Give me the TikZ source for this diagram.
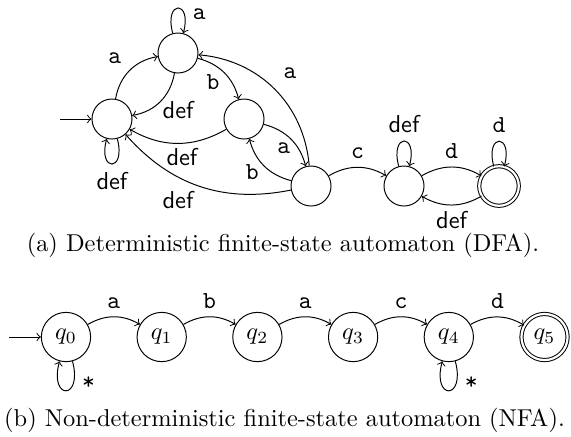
\documentclass[tikz,border=0pt]{standalone}
\begin{document}
\begin{tikzpicture}[x=0.4098pt,y=-0.4098pt,
  st/.style={circle,draw,minimum size=16.4pt,inner sep=0pt},
  acc/.style={circle,draw,double,double distance=0.9pt,minimum size=16.2pt,inner sep=0pt},
  nst/.style={circle,draw,minimum size=20.2pt,inner sep=0pt},
  nacc/.style={circle,draw,double,double distance=0.9pt,minimum size=18.9pt,inner sep=0pt},
  lab/.style={font=\ttfamily},
  slab/.style={font=\sffamily},
  tr/.style={->},
]
\useasboundingbox (0,0) rectangle (571,436);
% DFA
\node[st] (s0) at (112,119) {};
\node[st] (s1) at (178,53) {};
\node[st] (s2) at (244,119) {};
\node[st] (s3) at (311,186) {};
\node[st] (s4) at (404,186) {};
\node[acc] (s5) at (499,186) {};
\coordinate (i0) at (60,119);
\draw[tr] (i0) -- (s0);
\draw[tr] (s0) to[bend left=35] node[lab,shift={(-14.7,-12.7)}] {a} (s1);
\draw[tr] (s1) to[bend left=35] node[slab,shift={(17.7,8.7)}] {def} (s0);
\draw[tr] (s1) to[bend left=30] node[lab,shift={(-11.2,9.2)}] {b} (s2);
\draw[tr] (s2) to[bend left=30] node[slab,shift={(4,13.7)}] {def} (s0);
\draw[tr] (s2) to[bend left=30] node[lab,shift={(-7.2,9.2)}] {a} (s3);
\draw[tr] (s3) to[bend left=30] node[lab,shift={(-11.8,5.8)}] {b} (s2);
\draw[tr] (s3) to[bend right=40] node[lab,shift={(15.4,-16.4)}] {a} (s1);
\draw[tr] (s3) to[bend left=30] node[slab,shift={(-22,13.6)}] {def} (s0);
\draw[tr] (s3) to[bend left=30] node[above,lab] {c} (s4);
\draw[tr] (s4) to[bend left=30] node[above,lab] {d} (s5);
\draw[tr] (s5) to[bend left=30] node[below,slab,yshift=1pt] {def} (s4);
\draw[tr] (s1) to[loop above] node[pos=0.75,right,lab] {a} (s1);
\draw[tr] (s0) to[loop below] node[below,slab] {def} (s0);
\draw[tr] (s4) to[loop above] node[above,slab] {def} (s4);
\draw[tr] (s5) to[loop above] node[above,lab] {d} (s5);
\node (capa) at (283,245) {(a) Deterministic finite-state automaton (DFA).};
% NFA
\node[nst] (q0) at (66,337) {$q_0$};
\node[nst] (q1) at (161.7,337) {$q_1$};
\node[nst] (q2) at (257.4,337) {$q_2$};
\node[nst] (q3) at (353.1,337) {$q_3$};
\node[nst] (q4) at (448.8,337) {$q_4$};
\node[nacc] (q5) at (544.5,337) {$q_5$};
\coordinate (i1) at (9,337);
\draw[tr] (i1) -- (q0);
\draw[tr] (q0) to[bend left=30] node[above,lab] {a} (q1);
\draw[tr] (q1) to[bend left=30] node[above,lab] {b} (q2);
\draw[tr] (q2) to[bend left=30] node[above,lab] {a} (q3);
\draw[tr] (q3) to[bend left=30] node[above,lab] {c} (q4);
\draw[tr] (q4) to[bend left=30] node[above,lab] {d} (q5);
\draw[tr] (q0) to[loop below] node[pos=0.25,right,lab] {*} (q0);
\draw[tr] (q4) to[loop below] node[pos=0.25,right,lab] {*} (q4);
\node (capb) at (284.5,420) {(b) Non-deterministic finite-state automaton (NFA).};
\end{tikzpicture}
\end{document}
